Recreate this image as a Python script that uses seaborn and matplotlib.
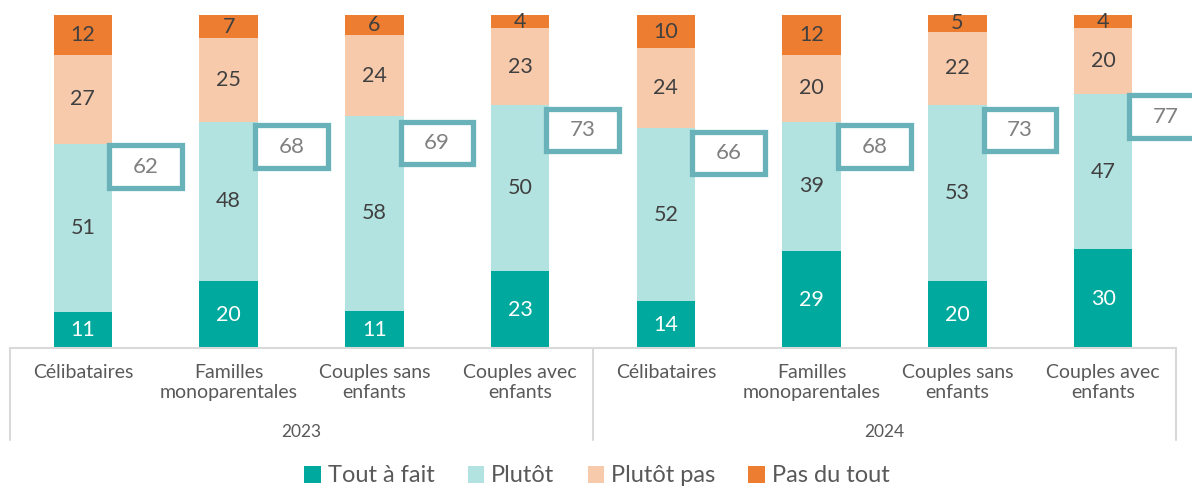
import matplotlib
matplotlib.use("Agg")
import matplotlib.pyplot as plt
import matplotlib.transforms as mtransforms
from matplotlib.patches import Rectangle, Patch
import seaborn as sns
import pandas as pd
import numpy as np

# ---- data ----
categories = ["Célibataires", "Familles\nmonoparentales", "Couples sans\nenfants", "Couples avec\nenfants"]
years = ["2023", "2024"]
tout_a_fait = [11, 20, 11, 23, 14, 29, 20, 30]
plutot = [51, 48, 58, 50, 52, 39, 53, 47]
plutot_pas = [27, 25, 24, 23, 24, 20, 22, 20]
pas_du_tout = [12, 7, 6, 4, 10, 12, 5, 4]
totals = [62, 68, 69, 73, 66, 68, 73, 77]
series_names = ["Tout à fait", "Plutôt", "Plutôt pas", "Pas du tout"]
colors = ["#00A99D", "#B3E3E0", "#F7CAAC", "#ED7D31"]

sns.set_theme(style="white")
plt.rcParams["font.family"] = ["Lato", "DejaVu Sans"]

series = [tout_a_fait, plutot, plutot_pas, pas_du_tout]
slots = [str(i) for i in range(len(tout_a_fait))]
rows = []
for name, vals in zip(series_names, series):
    for s, v in zip(slots, vals):
        rows.append({"slot": s, "serie": name, "value": v})
df = pd.DataFrame(rows)
# 100% stacked scale
df["share"] = df["value"] / df.groupby("slot")["value"].transform("sum") * 100
df["cum"] = df.groupby("slot")["share"].cumsum()
df["start"] = df["cum"] - df["share"]

fig = plt.figure(figsize=(11.92, 4.88), dpi=100)
ax = fig.add_axes([10 / 1192, 140 / 488, 1166 / 1192, 333 / 488])

# draw stacked bars from top layer down
for name, col in reversed(list(zip(series_names, colors))):
    sub = df[df["serie"] == name]
    sns.barplot(data=sub, x="slot", y="cum", order=slots, color=col,
                saturation=1, width=0.4, linewidth=0, ax=ax, errorbar=None)

# segment labels
for _, r in df.iterrows():
    xi = slots.index(r["slot"])
    tc = "white" if r["serie"] == "Tout à fait" else "#404040"
    ax.text(xi, r["start"] + r["share"] / 2, f"{r['value']}", ha="center", va="center",
            fontsize=15.5, color=tc)

# total boxes
bw, bh = 0.5, 12.7
for i, t in enumerate(totals):
    cx, cy = i + 0.43, t - 7.5
    ax.add_patch(Rectangle((cx - bw / 2, cy - bh / 2), bw, bh, facecolor="white",
                           edgecolor="#6AB2BA", linewidth=3.8, clip_on=False, zorder=5))
    ax.text(cx, cy, f"{t}", ha="center", va="center", fontsize=16,
            color="#808080", zorder=6)

ax.set_xlim(-0.5, len(slots) - 0.5)
ax.set_ylim(0, 100)
ax.set_xticks([])
ax.set_yticks([])
ax.set_xlabel("")
ax.set_ylabel("")
for sp in ax.spines.values():
    sp.set_visible(False)

# multi-level category axis
trans = mtransforms.blended_transform_factory(ax.transData, ax.transAxes)
lc = "#D9D9D9"
ax.plot([-0.5, len(slots) - 0.5], [0, 0], transform=trans, color=lc, lw=1.5, clip_on=False)
for xv in [-0.5, 3.5, 7.5]:
    ax.plot([xv, xv], [0, -0.277], transform=trans, color=lc, lw=1.5, clip_on=False)
for yi, y in enumerate(years):
    for ci, c in enumerate(categories):
        ax.text(yi * 4 + ci, -0.047, c, transform=trans, ha="center", va="top",
                fontsize=14, color="#595959", linespacing=1.25)
    ax.text(yi * 4 + 1.5, -0.252, y, transform=trans, ha="center", va="center",
            fontsize=12.5, color="#595959")

handles = [Patch(facecolor=c, edgecolor="none") for c in colors]
fig.legend(handles, series_names, loc="center", bbox_to_anchor=(597 / 1192, 1 - 476 / 488),
           ncol=4, frameon=False, fontsize=17, handlelength=0.7, handleheight=0.7,
           handletextpad=0.3, columnspacing=1.4, labelcolor="#595959")

fig.savefig("out.png", dpi=100)
